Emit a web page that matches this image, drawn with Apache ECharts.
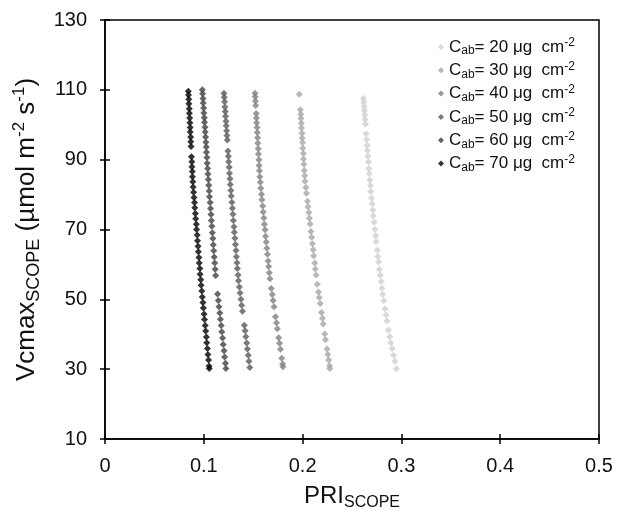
<!DOCTYPE html>
<html>
<head>
<meta charset="utf-8">
<script src="https://cdn.jsdelivr.net/npm/echarts@6/dist/echarts.min.js"></script>
<style>
  html, body { margin: 0; padding: 0; background: #fff; }
  #main { width: 633px; height: 516px; }
</style>
</head>
<body>
<div id="main"></div>
<script>
// Cab levels shown in the legend
var cabLevels = [20, 30, 40, 50, 60, 70];
var cabColors = ['#cfcfcf', '#a6a6a6', '#7f7f7f', '#595959', '#404040', '#000000'];

// [PRI_SCOPE, Vcmax_SCOPE] pairs
var cab20 = [
  [0.2615,107.6],[0.2620,106.5],[0.2623,105.2],[0.2626,104.1],[0.2629,102.8],[0.2633,101.5],[0.2636,100.2],
  [0.2643,97.4],[0.2648,95.8],[0.2653,94.1],[0.2656,92.6],[0.2661,91.0],[0.2667,89.3],[0.2670,87.5],
  [0.2676,86.0],[0.2680,84.2],[0.2686,82.6],[0.2690,80.9],[0.2698,79.0],[0.2704,77.4],[0.2711,75.6],
  [0.2716,73.9],[0.2724,72.1],[0.2731,70.0],[0.2739,68.2],[0.2744,66.5],[0.2755,64.1],[0.2762,62.3],
  [0.2769,60.7],[0.2777,58.6],[0.2786,56.9],[0.2794,55.1],[0.2803,53.2],[0.2810,51.4],[0.2822,49.6],
  [0.2834,47.3],[0.2845,45.5],[0.2853,43.8],[0.2868,41.2],[0.2882,39.3],[0.2893,37.6],[0.2906,35.9],
  [0.2920,34.0],[0.2934,32.3],[0.2950,30.1]
];
var cab30 = [
  [0.1967,108.7],[0.1977,104.3],[0.1981,103.0],[0.1983,101.8],[0.1987,100.4],[0.1989,99.1],[0.1994,97.6],
  [0.1996,96.2],[0.2000,94.9],[0.2002,93.3],[0.2007,91.8],[0.2009,90.2],[0.2014,88.7],[0.2017,86.9],
  [0.2021,85.4],[0.2025,83.8],[0.2033,82.0],[0.2039,80.4],[0.2049,78.1],[0.2055,76.5],[0.2063,74.9],
  [0.2069,73.2],[0.2076,71.6],[0.2084,69.4],[0.2092,67.8],[0.2099,65.9],[0.2107,64.2],[0.2113,62.5],
  [0.2123,60.4],[0.2129,58.7],[0.2137,57.0],[0.2148,54.3],[0.2161,52.1],[0.2168,50.5],[0.2178,48.8],
  [0.2191,46.2],[0.2201,44.6],[0.2209,42.9],[0.2224,40.1],[0.2232,38.4],[0.2247,35.8],[0.2255,34.2],
  [0.2264,32.6],[0.2272,31.0],[0.2276,30.2]
];
var cab40 = [
  [0.1518,109.0],[0.1520,108.0],[0.1523,106.8],[0.1525,105.5],[0.1530,103.2],[0.1533,101.9],[0.1535,100.6],
  [0.1539,99.2],[0.1541,97.8],[0.1545,96.3],[0.1547,94.7],[0.1551,93.1],[0.1553,91.6],[0.1558,90.0],
  [0.1560,88.3],[0.1564,86.8],[0.1567,85.1],[0.1572,83.5],[0.1577,81.8],[0.1584,80.1],[0.1588,78.5],
  [0.1596,76.7],[0.1601,75.0],[0.1608,73.3],[0.1613,71.5],[0.1620,69.9],[0.1625,68.1],[0.1632,66.4],
  [0.1638,64.6],[0.1645,62.9],[0.1651,61.0],[0.1657,59.4],[0.1663,57.6],[0.1670,55.9],[0.1683,53.1],
  [0.1693,51.4],[0.1701,49.7],[0.1711,47.9],[0.1726,45.0],[0.1736,43.3],[0.1744,41.6],[0.1758,39.0],
  [0.1766,37.4],[0.1776,35.7],[0.1789,33.1],[0.1798,31.5],[0.1801,30.7]
];
var cab50 = [
  [0.1204,109.0],[0.1207,107.9],[0.1211,106.6],[0.1214,105.1],[0.1218,103.8],[0.1220,102.4],[0.1225,101.0],
  [0.1227,99.7],[0.1231,98.3],[0.1234,96.9],[0.1238,95.6],[0.1244,92.5],[0.1249,91.0],[0.1252,89.4],
  [0.1257,87.8],[0.1260,86.1],[0.1265,84.5],[0.1268,82.9],[0.1274,81.2],[0.1278,79.6],[0.1284,77.8],
  [0.1289,76.1],[0.1295,74.4],[0.1299,72.6],[0.1305,70.8],[0.1309,69.2],[0.1315,67.5],[0.1320,65.7],
  [0.1326,64.0],[0.1330,62.2],[0.1336,60.5],[0.1340,58.8],[0.1347,57.0],[0.1351,55.3],[0.1360,53.5],
  [0.1367,51.8],[0.1376,50.0],[0.1383,48.3],[0.1392,46.6],[0.1410,42.6],[0.1418,41.0],[0.1425,39.3],
  [0.1434,37.5],[0.1441,35.8],[0.1450,34.0],[0.1457,32.3],[0.1466,30.5]
];
var cab60 = [
  [0.0985,110.0],[0.0988,108.9],[0.0992,107.5],[0.0994,106.2],[0.0999,104.8],[0.1001,103.4],[0.1005,102.0],
  [0.1007,100.7],[0.1012,99.3],[0.1014,97.9],[0.1018,96.5],[0.1021,95.0],[0.1025,93.6],[0.1027,92.1],
  [0.1032,90.6],[0.1034,89.0],[0.1039,87.5],[0.1042,85.9],[0.1046,84.3],[0.1050,82.7],[0.1055,81.0],
  [0.1058,79.4],[0.1064,77.7],[0.1068,76.0],[0.1073,74.3],[0.1077,72.6],[0.1082,70.9],[0.1086,69.1],
  [0.1092,67.4],[0.1096,65.6],[0.1101,63.9],[0.1105,62.1],[0.1111,60.4],[0.1115,58.6],[0.1120,56.8],
  [0.1139,51.5],[0.1147,49.7],[0.1153,47.9],[0.1162,46.1],[0.1168,44.3],[0.1176,42.5],[0.1182,40.7],
  [0.1190,38.9],[0.1196,37.1],[0.1205,35.3],[0.1211,33.5],[0.1219,31.7],[0.1224,30.2]
];
var cab70 = [
  [0.0843,109.6],[0.0845,108.5],[0.0848,107.3],[0.0849,106.0],[0.0853,104.6],[0.0854,103.3],[0.0857,101.9],
  [0.0859,100.6],[0.0862,99.2],[0.0863,97.9],[0.0867,96.5],[0.0868,95.1],[0.0871,93.8],[0.0875,90.8],
  [0.0879,89.4],[0.0880,88.0],[0.0884,86.6],[0.0885,85.1],[0.0889,83.7],[0.0892,82.2],[0.0897,80.7],
  [0.0901,79.2],[0.0906,77.7],[0.0909,76.2],[0.0915,74.6],[0.0918,73.1],[0.0924,71.5],[0.0927,70.0],
  [0.0933,68.4],[0.0936,66.8],[0.0942,65.2],[0.0945,63.6],[0.0951,62.0],[0.0954,60.4],[0.0960,58.8],
  [0.0963,57.2],[0.0969,55.6],[0.0973,54.0],[0.0980,52.4],[0.0985,50.7],[0.0991,49.1],[0.0996,47.5],
  [0.1003,45.8],[0.1007,44.2],[0.1014,42.5],[0.1019,40.9],[0.1026,39.2],[0.1030,37.6],[0.1037,35.9],
  [0.1042,34.2],[0.1048,32.6],[0.1053,30.9],[0.1055,30.2]
];
var seriesData = [cab20, cab30, cab40, cab50, cab60, cab70];

// axis ticks
var xMin = 0, xMax = 0.5, xStep = 0.1;
var yMin = 10, yMax = 130, yStep = 20;

var FONT = 'Liberation Sans, Arial, sans-serif';
var chart = echarts.init(document.getElementById('main'));

var series = cabLevels.map(function (c, i) {
  return {
    name: 'Cab' + c,
    type: 'scatter',
    symbol: 'diamond',
    symbolSize: 7,
    itemStyle: { color: cabColors[i] },
    data: seriesData[i]
  };
});

var tickOut = { show: true, inside: false, length: 5, lineStyle: { color: '#000', width: 1.5 } };
var tickIn = { show: true, inside: true, length: 5, lineStyle: { color: '#000', width: 1.5 } };

function nameRich(big, small) {
  return {
    m: { fontSize: big, fontFamily: FONT, color: '#111', lineHeight: big + 6, verticalAlign: 'middle' },
    s: { fontSize: small, fontFamily: FONT, color: '#111', lineHeight: small, verticalAlign: 'bottom' },
    p: { fontSize: small - 1, fontFamily: FONT, color: '#111', lineHeight: small - 1, verticalAlign: 'top' }
  };
}

var option = {
  animation: false,
  backgroundColor: '#fff',
  grid: {
    left: 105, right: 34, top: 20, bottom: 77,
    show: true, borderColor: '#000', borderWidth: 1.5, backgroundColor: 'transparent'
  },
  legend: {
    orient: 'vertical',
    left: 433,
    top: 32,
    itemWidth: 6,
    itemHeight: 6,
    itemGap: 3.3,
    data: series.map(function (s) { return s.name; }),
    formatter: function (name) {
      return '{c|C}{s|ab}{c|= ' + name.slice(3) + ' \u03bcg  cm}{p|-2}';
    },
    textStyle: {
      rich: {
        c: { fontSize: 17, fontFamily: FONT, color: '#111', lineHeight: 20, verticalAlign: 'middle' },
        s: { fontSize: 12, fontFamily: FONT, color: '#111', lineHeight: 12, verticalAlign: 'bottom' },
        p: { fontSize: 12, fontFamily: FONT, color: '#111', lineHeight: 12, verticalAlign: 'top' }
      }
    }
  },
  xAxis: [{
    type: 'value', min: xMin, max: xMax, interval: xStep,
    position: 'bottom',
    splitLine: { show: false },
    axisLine: { show: true, lineStyle: { color: '#000', width: 1.5 } },
    axisTick: tickOut,
    axisLabel: { fontSize: 20, fontFamily: FONT, color: '#111', margin: 17 },
    name: '{m|PRI}{s|SCOPE}',
    nameLocation: 'middle',
    nameGap: 42,
    nameTextStyle: { rich: nameRich(24, 16) }
  }, {
    type: 'value', min: xMin, max: xMax, interval: xStep,
    position: 'bottom',
    splitLine: { show: false },
    axisLine: { show: false },
    axisTick: tickIn,
    axisLabel: { show: false }
  }],
  yAxis: [{
    type: 'value', min: yMin, max: yMax, interval: yStep,
    position: 'left',
    splitLine: { show: false },
    axisLine: { show: true, lineStyle: { color: '#000', width: 1.5 } },
    axisTick: tickOut,
    axisLabel: { fontSize: 20, fontFamily: FONT, color: '#111', margin: 18 },
    name: '{m|Vcmax}{s|SCOPE}{m| (\u00b5mol m}{p|-2}{m| s}{p|-1}{m|)}',
    nameLocation: 'middle',
    nameGap: 58,
    nameTextStyle: { rich: nameRich(26, 18) }
  }, {
    type: 'value', min: yMin, max: yMax, interval: yStep,
    position: 'left',
    splitLine: { show: false },
    axisLine: { show: false },
    axisTick: tickIn,
    axisLabel: { show: false }
  }],
  series: series
};

chart.setOption(option);
</script>
</body>
</html>
